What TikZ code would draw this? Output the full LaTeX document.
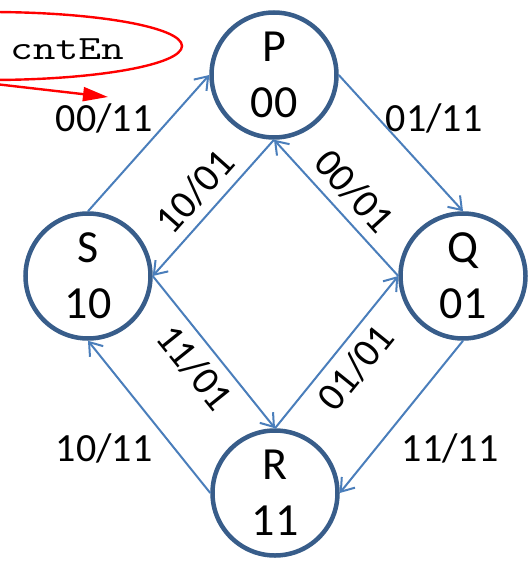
\documentclass[tikz,border=0pt]{standalone}
\usepackage{fontspec}
\setmainfont{Carlito}
\usetikzlibrary{arrows.meta}
\definecolor{stroke}{HTML}{385D8A}
\definecolor{conn}{HTML}{4A7EBB}
\begin{document}
\begin{tikzpicture}[x=1pt,y=-1pt,
  state/.style={circle, draw=stroke, line width=4.5pt, fill=white, minimum size=125pt, inner sep=0pt, align=center, font=\fontsize{46}{56}\selectfont},
  edge/.style={conn, line width=2pt, -{Straight Barb[length=12pt,width=17pt]}},
  lbl/.style={text=black, font=\fontsize{40}{48}\selectfont, inner sep=0pt},
  redline/.style={red, line width=2.4pt}]
\useasboundingbox (0,0) rectangle (528,561);
\clip (0,0) rectangle (528,561);

\node[state] (P) at (274,75) {P\\00};
\node[state] (S) at (88,276) {S\\10};
\node[state] (Q) at (463,276) {Q\\01};
\node[state] (R) at (275,493) {R\\11};

\draw[edge] (S.north) -- (P.west) node[lbl] at (104,118) {00/11};
\draw[edge] (P.east) -- (Q.north) node[lbl] at (434,118) {01/11};
\draw[edge] (Q.south) -- (R.east) node[lbl] at (450,448) {11/11};
\draw[edge] (R.west) -- (S.south) node[lbl] at (104,448) {10/11};
\draw[edge] (P.south) -- node[lbl, sloped, above=9pt] {10/01} (S.east);
\draw[edge] (Q.west) -- node[lbl, sloped, above=9pt] {00/01} (P.south);
\draw[edge] (S.east) -- node[lbl, sloped, below=9pt] {11/01} (R.north);
\draw[edge] (R.north) -- node[lbl, sloped, below=9pt] {01/01} (Q.west);

\draw[redline] (-10,46) ellipse [x radius=192pt, y radius=34pt];
\node[font=\ttfamily\fontsize{34}{40}\selectfont, xscale=1.3, inner sep=0pt] (cnt) at (67,49) {cntEn};
\coordinate (r0) at (-5,84);
\coordinate (r1) at (108,97);
\draw[redline, -{Triangle[length=25pt,width=14pt]}] (r0) -- (r1);
\end{tikzpicture}
\end{document}
